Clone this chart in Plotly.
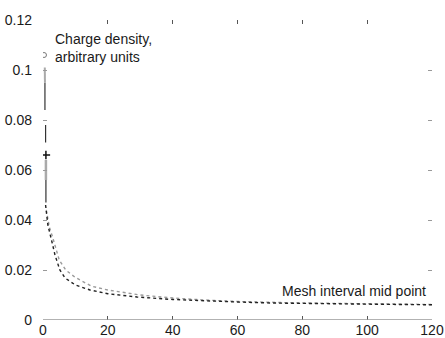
import plotly.graph_objects as go

# Main decaying curve (dark, dotted)
mid_x = [0.8, 1.5, 2.8, 3.7, 5.2, 6.8, 10, 14.5, 20, 29, 40, 50, 60, 70, 80, 90, 100, 110, 120]
dens_dark = [0.046, 0.038, 0.031, 0.026, 0.020, 0.0168, 0.014, 0.012, 0.0105, 0.0092,
             0.0082, 0.0076, 0.0072, 0.0068, 0.0066, 0.0064, 0.0063, 0.0062, 0.0061]

# Coarser curve (gray, dotted) slightly above
coarse_x = [1.0, 2.0, 3.0, 5.0, 7.0, 10, 15, 20, 30, 40, 50, 60, 80, 100, 120]
dens_gray = [0.044, 0.037, 0.033, 0.024, 0.020, 0.017, 0.0135, 0.012, 0.0100, 0.0088,
             0.0080, 0.0074, 0.0068, 0.0064, 0.0062]

# Near-origin steep segments
steep_x = [0.6, 0.6]
steep_y = [0.095, 0.084]
steep2_x = [0.8, 0.8]
steep2_y = [0.078, 0.071]
steep3_x = [0.9, 0.9]
steep3_y = [0.056, 0.047]
steep_gray_x = [0.55, 0.6]
steep_gray_y = [0.101, 0.095]
steep_gray2_x = [0.9, 0.9]
steep_gray2_y = [0.064, 0.056]

circle_x = [0.3]
circle_y = [0.106]
plus_x = [0.9]
plus_y = [0.066]

x_ticks = [0, 20, 40, 60, 80, 100, 120]
y_ticks = [0, 0.02, 0.04, 0.06, 0.08, 0.1, 0.12]
y_tick_text = ["0", "0.02", "0.04", "0.06", "0.08", "0.1", "0.12"]

fig = go.Figure()
fig.add_trace(go.Scatter(x=coarse_x, y=dens_gray, mode="lines",
                         line=dict(color="#9a9a9a", width=1.4, dash="dot"), showlegend=False))
fig.add_trace(go.Scatter(x=mid_x, y=dens_dark, mode="lines",
                         line=dict(color="#222222", width=1.4, dash="dot"), showlegend=False))
for sx, sy in [(steep_x, steep_y), (steep2_x, steep2_y), (steep3_x, steep3_y)]:
    fig.add_trace(go.Scatter(x=sx, y=sy, mode="lines",
                             line=dict(color="#333333", width=1.2), showlegend=False))
fig.add_trace(go.Scatter(x=steep_gray_x, y=steep_gray_y, mode="lines",
                         line=dict(color="#aaaaaa", width=2), showlegend=False))
fig.add_trace(go.Scatter(x=steep_gray2_x, y=steep_gray2_y, mode="lines",
                         line=dict(color="#aaaaaa", width=2.5), showlegend=False))
fig.add_trace(go.Scatter(x=circle_x, y=circle_y, mode="markers",
                         marker=dict(symbol="circle-open", size=5, color="#777777",
                                     line=dict(width=1)), showlegend=False))
fig.add_trace(go.Scatter(x=plus_x, y=plus_y, mode="markers",
                         marker=dict(symbol="cross-thin-open", size=6, color="#111111",
                                     line=dict(width=1.5, color="#111111")), showlegend=False))

font = dict(family="Liberation Sans, Arial, sans-serif", size=14, color="#1a1a1a")

fig.add_annotation(x=3, y=0.1088, xref="x", yref="y", text="Charge density,<br>arbitrary units",
                   showarrow=False, xanchor="left", yanchor="middle", align="left", font=font)
fig.add_annotation(x=73, y=0.0116, xref="x", yref="y", text="Mesh interval mid point",
                   showarrow=False, xanchor="left", yanchor="middle", font=font)

# bottom axis line only
fig.add_shape(type="line", xref="paper", yref="y", x0=0, x1=1, y0=0, y1=0,
              line=dict(color="#999999", width=1.5))

fig.update_layout(
    width=445, height=338,
    margin=dict(l=43, r=13, t=20, b=18, autoexpand=False),
    paper_bgcolor="white", plot_bgcolor="white",
    font=font,
    xaxis=dict(range=[0, 120], tickvals=x_ticks, ticks="inside", ticklen=4, tickcolor="#555555",
               showgrid=False, zeroline=False, showline=False, mirror="ticks", tickfont=font,
               automargin=False),
    yaxis=dict(range=[0, 0.12], tickvals=y_ticks, ticktext=y_tick_text, ticks="inside", ticklen=4,
               tickcolor="#999999", showgrid=False, zeroline=False, showline=False, mirror="ticks",
               tickfont=font, automargin=False, ticklabelstandoff=10),
)

fig.write_html("out.html")
